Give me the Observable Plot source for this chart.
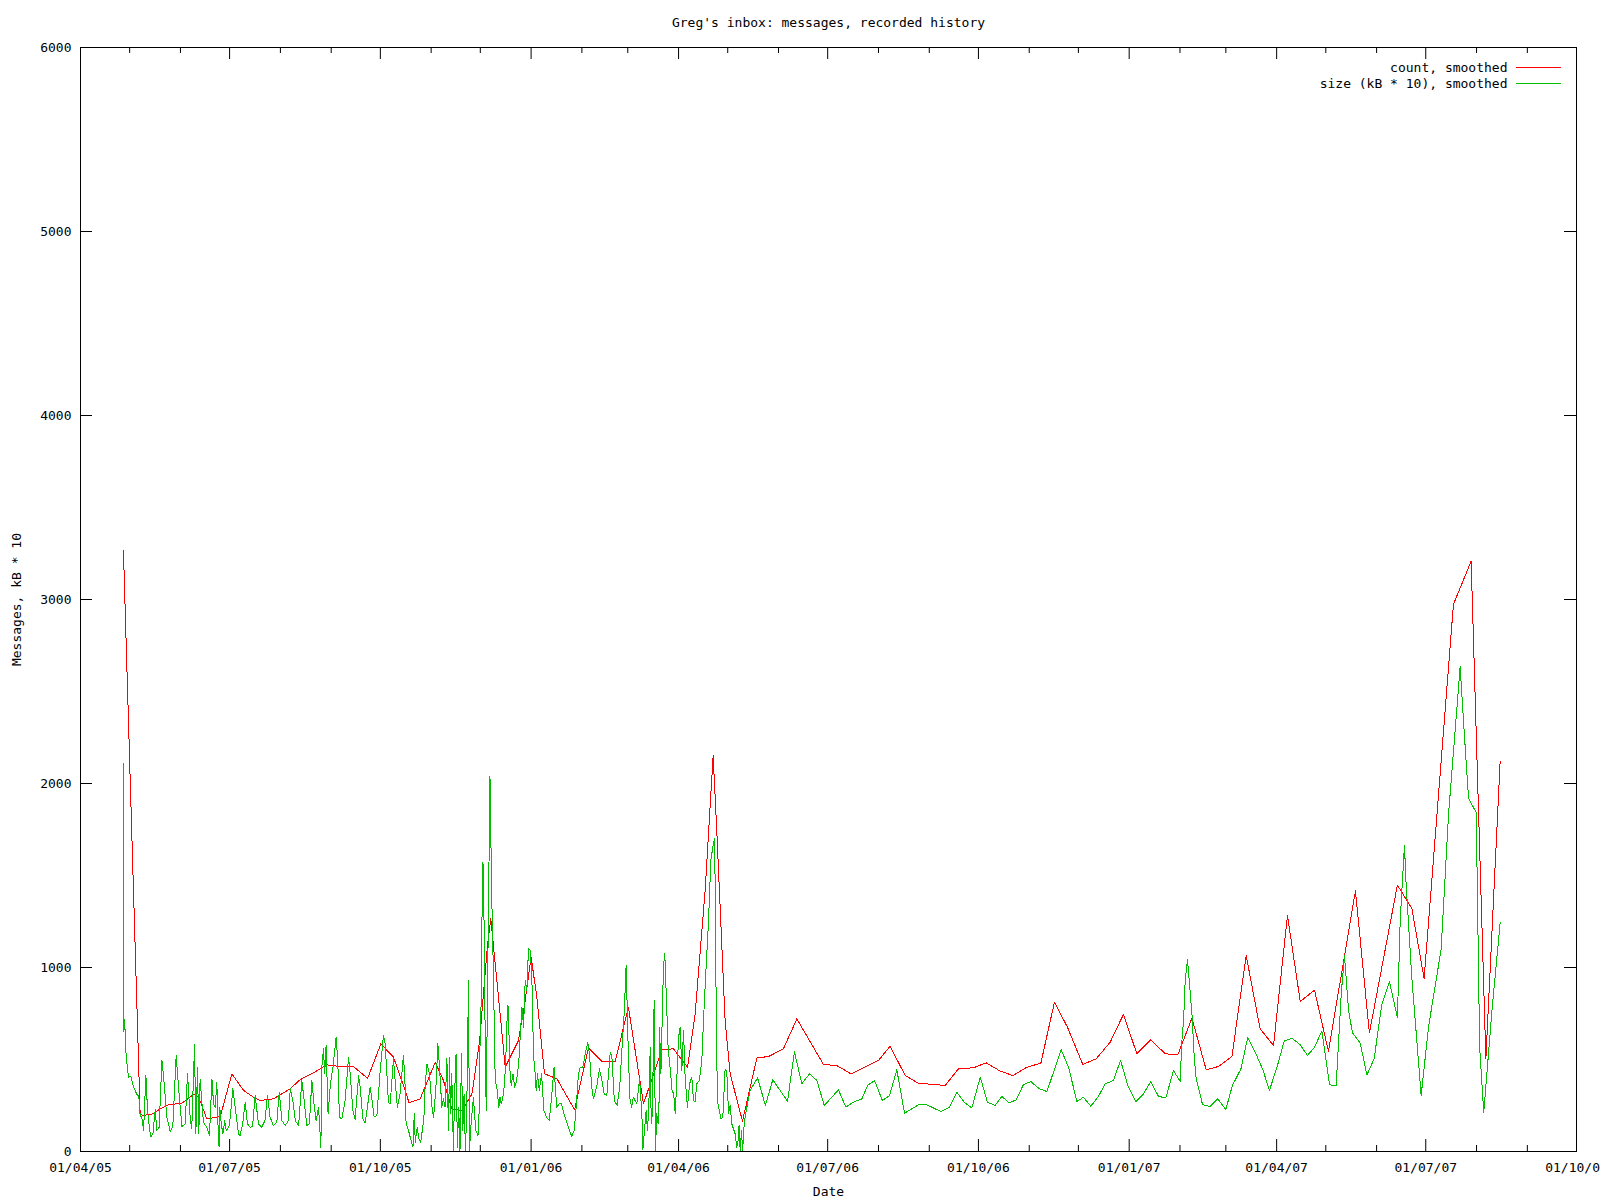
<!DOCTYPE html>
<html>
<head>
<meta charset="utf-8">
<script src="https://cdn.jsdelivr.net/npm/d3@7"></script>
<script src="https://cdn.jsdelivr.net/npm/@observablehq/plot@0.6"></script>
<style>
  html, body { margin: 0; padding: 0; background: #ffffff; }
  #chart svg { display: block; }
</style>
</head>
<body>
<div id="chart"></div>
<script>
// ---- texts ----
const titleText = "Greg's inbox: messages, recorded history";
const xLabel = "Date";
const yLabel = "Messages, kB * 10";
const seriesNames = ["count, smoothed", "size (kB * 10), smoothed"];
const seriesColors = ["#ff0000", "#00c000"];

// ---- axes ----
const startDate = "2005-04-01";           // day 0 of the offsets below
const xDomain = ["2005-04-01", "2007-10-01"];
const xMajorTicks = ["2005-04-01", "2005-07-01", "2005-10-01", "2006-01-01", "2006-04-01",
  "2006-07-01", "2006-10-01", "2007-01-01", "2007-04-01", "2007-07-01", "2007-10-01"];
const xMinorTicks = ["2005-05-01", "2005-06-01", "2005-08-01", "2005-09-01", "2005-11-01",
  "2005-12-01", "2006-02-01", "2006-03-01", "2006-05-01", "2006-06-01", "2006-08-01",
  "2006-09-01", "2006-11-01", "2006-12-01", "2007-02-01", "2007-03-01", "2007-05-01",
  "2007-06-01", "2007-08-01", "2007-09-01"];
const yTicks = [0, 1000, 2000, 3000, 4000, 5000, 6000];

// ---- series: [days since 2005-04-01, value] ----
const countSeries = [
  [26.2, 3267], [31.3, 1730], [36.4, 201], [38.5, 196], [44.6, 205], [48.6, 232], [53.7, 254],
  [61.9, 263], [69.0, 310], [72.0, 299], [77.1, 177], [85.3, 190], [92.4, 422], [99.5, 332],
  [105.6, 295], [109.7, 277], [117.8, 286], [128.0, 341], [134.0, 390], [142.2, 428],
  [150.4, 471], [158.5, 462], [166.6, 462], [175.2, 397], [183.3, 585], [191.0, 513],
  [197.1, 359], [200.5, 266], [207.3, 286], [216.5, 485], [221.5, 386], [226.6, 232],
  [232.8, 223], [238.9, 313], [243.5, 594], [245.6, 821], [248.4, 1120], [250.4, 1265],
  [252.0, 1120], [255.1, 839], [259.2, 458], [267.3, 603], [271.4, 821], [275.0, 1056],
  [278.5, 839], [283.2, 422], [290.8, 395], [301.5, 227], [310.0, 564], [318.2, 489],
  [326.3, 489], [334.4, 784], [343.6, 259], [354.8, 553], [361.9, 558], [370.5, 458],
  [375.1, 748], [381.2, 1418], [386.1, 2152], [388.4, 1727], [393.4, 712], [396.5, 422],
  [404.0, 165], [412.8, 509], [419.9, 516], [429.0, 558], [437.2, 721], [453.4, 473],
  [461.6, 467], [470.2, 422], [487.0, 495], [494.1, 572], [503.3, 413], [511.4, 371],
  [527.7, 359], [535.8, 449], [545.0, 455], [552.7, 482], [561.3, 437], [569.0, 413],
  [577.6, 458], [586.1, 480], [594.4, 812], [602.3, 676], [611.7, 473], [619.9, 504],
  [628.4, 594], [636.5, 745], [644.7, 531], [653.2, 607], [662.0, 531], [669.7, 526],
  [678.3, 725], [687.0, 444], [694.5, 462], [702.7, 516], [711.4, 1065], [719.9, 667],
  [728.1, 576], [736.6, 1283], [744.4, 815], [753.1, 877], [761.6, 545], [778.1, 1416],
  [786.6, 644], [803.7, 1448], [812.5, 1321], [820.0, 940], [837.9, 2974], [848.7, 3208],
  [857.7, 504], [866.4, 2120]
];

const sizeSeries = [
  [26.3, 2111], [26.5, 650], [26.9, 720], [27.9, 513], [29.3, 404], [30.7, 409], [32.4, 350],
  [34.4, 310], [35.6, 300], [36.4, 196], [37.4, 187], [38.5, 114], [39.9, 413], [40.9, 223],
  [42.3, 114], [43.0, 78], [44.2, 96], [45.6, 227], [46.6, 114], [48.0, 132], [49.7, 495],
  [51.1, 368], [52.7, 187], [54.7, 110], [56.3, 132], [58.4, 522], [59.8, 350], [61.9, 135],
  [63.9, 150], [65.3, 422], [66.9, 187], [67.9, 123], [69.6, 581], [70.4, 96], [71.4, 458],
  [72.2, 96], [73.0, 395], [75.0, 159], [77.0, 132], [78.7, 87], [80.2, 395], [81.2, 259],
  [82.2, 241], [83.2, 377], [84.2, 60], [84.6, 27], [85.0, 241], [85.9, 150], [86.9, 96],
  [88.0, 168], [89.0, 114], [90.9, 141], [93.0, 341], [94.4, 241], [96.4, 96], [97.4, 87],
  [99.0, 150], [100.5, 268], [101.9, 150], [103.5, 132], [105.0, 135], [106.6, 304],
  [108.6, 150], [110.6, 132], [112.6, 168], [114.1, 304], [115.7, 187], [117.7, 141],
  [119.8, 159], [121.3, 322], [122.9, 168], [124.9, 141], [126.9, 168], [128.0, 341],
  [129.6, 277], [131.1, 168], [133.1, 141], [135.1, 386], [136.5, 277], [138.1, 141],
  [139.7, 150], [141.2, 386], [142.6, 250], [143.8, 168], [145.3, 241], [146.7, 23],
  [147.3, 458], [148.3, 558], [149.0, 422], [149.9, 576], [151.1, 205], [152.5, 368],
  [154.1, 458], [156.0, 621], [157.0, 495], [158.0, 187], [159.5, 177], [161.5, 277],
  [163.6, 513], [164.6, 422], [166.2, 223], [167.6, 172], [169.7, 413], [170.7, 350],
  [172.3, 177], [173.7, 154], [176.8, 350], [178.2, 259], [179.2, 187], [180.9, 196],
  [182.9, 440], [184.9, 630], [185.9, 585], [186.9, 440], [187.9, 268], [189.0, 259],
  [191.0, 504], [192.0, 386], [193.4, 241], [195.0, 313], [197.1, 522], [198.1, 359],
  [198.7, 150], [200.2, 114], [201.2, 78], [202.9, 23], [203.7, 205], [204.3, 51],
  [205.5, 132], [206.5, 69], [207.6, 51], [208.6, 114], [209.6, 187], [210.3, 350],
  [211.4, 476], [213.0, 422], [214.5, 241], [215.5, 187], [216.9, 350], [218.1, 585],
  [219.1, 458], [220.5, 241], [221.5, 286], [222.5, 241], [223.6, 504], [224.6, 114],
  [225.2, 513], [225.8, 205], [226.6, 422], [227.6, 5], [228.2, 277], [229.2, 531],
  [230.0, 23], [230.8, 241], [231.6, 5], [232.5, 531], [233.3, 114], [234.1, 313],
  [234.9, 5], [235.7, 205], [236.8, 929], [237.4, 5], [238.2, 132], [239.8, 295],
  [241.2, 114], [242.6, 87], [243.4, 241], [243.9, 640], [244.5, 803], [245.1, 1328],
  [245.6, 1572], [246.0, 1491], [247.0, 603], [247.6, 223], [248.4, 875], [249.0, 1328],
  [249.9, 2040], [250.9, 1418], [252.0, 966], [253.1, 386], [254.1, 350], [255.3, 241],
  [256.0, 295], [256.8, 259], [258.2, 313], [259.4, 458], [260.6, 793], [261.2, 784],
  [261.9, 458], [262.9, 359], [263.9, 422], [265.0, 350], [266.0, 377], [267.4, 476],
  [269.4, 784], [270.4, 676], [271.4, 929], [272.4, 875], [273.4, 1102], [274.4, 1093],
  [275.4, 966], [276.5, 513], [277.2, 458], [278.1, 332], [278.9, 422], [280.0, 332],
  [281.4, 422], [282.8, 223], [284.4, 187], [286.1, 168], [287.5, 295], [289.0, 458],
  [290.6, 241], [292.2, 259], [293.6, 259], [295.1, 205], [297.7, 132], [299.8, 82],
  [301.3, 114], [302.5, 241], [303.9, 422], [305.0, 458], [306.6, 458], [308.0, 531],
  [309.6, 594], [310.6, 531], [312.0, 350], [313.0, 286], [315.0, 350], [316.7, 449],
  [318.2, 386], [319.6, 313], [321.2, 304], [323.3, 540], [324.3, 513], [325.8, 277],
  [327.5, 250], [329.1, 350], [330.5, 567], [331.8, 748], [333.0, 1011], [334.4, 513],
  [335.4, 277], [336.4, 241], [337.4, 295], [339.5, 259], [341.2, 395], [342.6, 205],
  [343.2, 9], [344.2, 114], [345.2, 223], [346.0, 114], [346.8, 232], [347.7, 567],
  [348.3, 150], [349.0, 205], [350.1, 821], [350.9, 5], [351.7, 205], [352.5, 150],
  [353.0, 187], [353.4, 676], [354.2, 422], [355.8, 1011], [356.6, 1074], [357.4, 875],
  [358.6, 567], [360.0, 440], [361.0, 332], [362.0, 313], [363.0, 205], [365.0, 621],
  [366.0, 676], [367.0, 440], [368.0, 658], [369.0, 404], [370.4, 241], [371.7, 368],
  [373.1, 404], [374.1, 277], [375.1, 268], [376.1, 368], [377.7, 386], [379.2, 495],
  [380.2, 712], [381.8, 1002], [383.2, 1237], [384.7, 1582], [385.9, 1654], [386.9, 1699],
  [387.5, 1364], [387.9, 821], [388.7, 277], [390.8, 178], [392.0, 187], [393.4, 449],
  [394.4, 440], [395.5, 205], [396.5, 250], [397.5, 150], [399.5, 96], [400.5, 23],
  [401.3, 60], [401.9, 141], [402.6, 5], [403.4, 114], [404.1, 5], [404.9, 132],
  [405.9, 205], [408.7, 332], [413.2, 400], [418.0, 250], [422.5, 390], [431.5, 273],
  [435.7, 543], [440.2, 368], [444.9, 422], [449.4, 386], [453.9, 250], [462.6, 335],
  [467.1, 241], [471.7, 268], [476.9, 286], [480.3, 359], [484.6, 386], [489.4, 277],
  [493.7, 304], [498.2, 444], [502.9, 208], [511.4, 254], [516.5, 254], [525.1, 217],
  [530.3, 241], [534.9, 322], [539.3, 268], [544.0, 237], [549.1, 404], [553.5, 268],
  [558.2, 250], [562.3, 299], [566.8, 264], [571.0, 281], [575.5, 364], [580.0, 380],
  [585.1, 341], [589.8, 326], [598.5, 553], [603.0, 458], [608.1, 272], [612.1, 295],
  [616.6, 246], [621.3, 301], [625.4, 368], [630.4, 386], [634.7, 495], [639.2, 359],
  [644.1, 272], [648.7, 313], [653.2, 380], [657.9, 299], [662.4, 292], [667.0, 440],
  [671.1, 382], [672.2, 603], [673.2, 712], [674.2, 929], [675.6, 1043], [676.8, 911],
  [678.3, 748], [679.7, 513], [680.9, 395], [684.8, 254], [689.4, 245], [694.1, 286],
  [699.0, 228], [703.0, 359], [708.2, 449], [712.4, 621], [716.9, 540], [721.6, 444],
  [725.6, 332], [730.2, 458], [734.6, 600], [739.3, 616], [744.4, 580], [748.8, 522],
  [753.1, 566], [757.6, 655], [762.3, 363], [766.3, 356], [769.4, 855], [771.4, 1066],
  [773.9, 766], [776.3, 644], [781.0, 589], [785.1, 416], [789.5, 504], [794.2, 800],
  [798.9, 922], [803.7, 727], [805.4, 1254], [808.0, 1665], [809.0, 1454], [812.5, 944],
  [818.2, 305], [822.7, 678], [830.4, 1099], [834.9, 1832], [842.0, 2635], [844.0, 2342],
  [847.1, 1920], [851.8, 1842], [853.9, 566], [856.4, 212], [858.4, 434], [861.4, 766],
  [866.4, 1243]
];

// ---- build tables ----
const t0 = new Date(startDate + "T00:00:00Z").getTime();
const toDate = (days) => new Date(t0 + days * 86400000);
const parse = (s) => new Date(s + "T00:00:00Z");
const countData = countSeries.map(([d, v]) => ({date: toDate(d), value: v}));
const sizeData = sizeSeries.map(([d, v]) => ({date: toDate(d), value: v}));
const majorDates = xMajorTicks.map(parse);
const minorDates = xMinorTicks.map(parse);

const W = 1600, H = 1200;
const mL = 80, mR = 24, mT = 47, mB = 49;
const frameW = W - mL - mR, frameH = H - mT - mB;
const fmt = d3.utcFormat("%d/%m/%y");
const font = "'DejaVu Sans Mono', 'Liberation Mono', monospace";
const txt = {text: d => d, fontSize: 13, fill: "black", lineAnchor: "middle"};

const plot = Plot.plot({
  width: W, height: H,
  marginLeft: mL, marginRight: mR, marginTop: mT, marginBottom: mB,
  style: {fontFamily: font, fontSize: "13px", color: "black", background: "white"},
  x: {type: "utc", domain: xDomain.map(parse)},
  y: {domain: [0, 6000]},
  marks: [
    Plot.line(countData, {x: "date", y: "value", stroke: seriesColors[0], strokeWidth: 1, shapeRendering: "crispEdges"}),
    Plot.line(sizeData, {x: "date", y: "value", stroke: seriesColors[1], strokeWidth: 1, shapeRendering: "crispEdges"}),
    Plot.frame({stroke: "black", strokeWidth: 1}),
    // inward ticks, bottom and top
    Plot.tickX(minorDates, {x: d => d, stroke: "black", insetTop: frameH - 6}),
    Plot.tickX(minorDates, {x: d => d, stroke: "black", insetBottom: frameH - 6}),
    Plot.tickX(majorDates, {x: d => d, stroke: "black", insetTop: frameH - 12}),
    Plot.tickX(majorDates, {x: d => d, stroke: "black", insetBottom: frameH - 12}),
    // inward ticks, left and right
    Plot.tickY(yTicks, {y: d => d, stroke: "black", insetRight: frameW - 12}),
    Plot.tickY(yTicks, {y: d => d, stroke: "black", insetLeft: frameW - 12}),
    Plot.axisX({ticks: majorDates, tickSize: 0, tickPadding: 11, tickFormat: fmt, label: null, fontSize: 13}),
    Plot.axisY({ticks: yTicks, tickSize: 0, tickPadding: 9, tickFormat: d => String(d), label: null, fontSize: 13}),
    Plot.text([titleText], {...txt, frameAnchor: "top", dy: -25, textAnchor: "middle"}),
    Plot.text([xLabel], {...txt, frameAnchor: "bottom", dy: 40, textAnchor: "middle"}),
    Plot.text([yLabel], {...txt, frameAnchor: "left", dx: -64, rotate: -90, textAnchor: "middle"}),
    Plot.text([seriesNames[0]], {...txt, frameAnchor: "top-right", dx: -69, dy: 20, textAnchor: "end"}),
    Plot.text([seriesNames[1]], {...txt, frameAnchor: "top-right", dx: -69, dy: 36, textAnchor: "end"})
  ]
});

// legend line samples
const svg = d3.select(plot);
const lg = svg.append("g").attr("shape-rendering", "crispEdges");
[0, 1].forEach(i => {
  lg.append("line")
    .attr("x1", W - mR - 60).attr("x2", W - mR - 15)
    .attr("y1", mT + 20.5 + 16 * i).attr("y2", mT + 20.5 + 16 * i)
    .attr("stroke", seriesColors[i]).attr("stroke-width", 1);
});

document.getElementById("chart").appendChild(plot);
</script>
</body>
</html>
